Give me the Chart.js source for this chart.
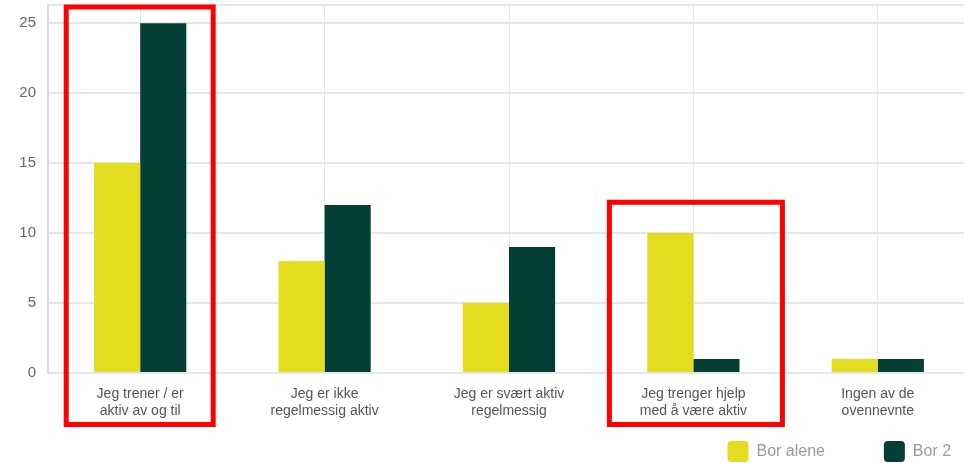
<!DOCTYPE html>
<html>
<head>
<meta charset="utf-8">
<script src="https://cdn.jsdelivr.net/npm/chart.js@4"></script>
<style>
    html, body { margin: 0; padding: 0; background: #fff; overflow: hidden; }
    #wrap { width: 970px; height: 472px; }
</style>
</head>
<body>
<div id="wrap"><canvas id="chart"></canvas></div>
<script>
// data
const categories = [
    ["Jeg trener / er", "aktiv av og til"],
    ["Jeg er ikke", "regelmessig aktiv"],
    ["Jeg er svært aktiv", "regelmessig"],
    ["Jeg trenger hjelp", "med å være aktiv"],
    ["Ingen av de", "ovennevnte"]
];
const seriesNames = ["Bor alene", "Bor 2"];
const borAlene = [15, 8, 5, 10, 1];
const bor2 = [25, 12, 9, 1, 1];
const yTicks = [0, 5, 10, 15, 20, 25];

// red boxes drawn over the chart (category index, top value or null for top of plot)
const highlights = [
    { cat: 0, top: null, left: 74, right: 73 },
    { cat: 3, top: 12.2, left: 84, right: 89 }
];

const highlightPlugin = {
    id: 'highlight',
    afterDraw(c) {
        const ctx = c.ctx;
        const x = c.scales.x, y = c.scales.y;
        ctx.save();
        ctx.strokeStyle = '#ff0000';
        ctx.lineWidth = 5;
        highlights.forEach(h => {
            const cx = x.getPixelForValue(h.cat);
            const top = h.top === null ? c.chartArea.top + 2 : y.getPixelForValue(h.top);
            const bottom = 424.5;
            ctx.strokeRect(cx - h.left, top, h.left + h.right, bottom - top);
        });
        ctx.restore();
    }
};

const font = "'Liberation Sans', Arial, sans-serif";

new Chart(document.getElementById("chart"), {
    type: 'bar',
    data: {
        labels: categories,
        datasets: [{
            label: seriesNames[0],
            data: borAlene,
            backgroundColor: '#e3dc1f',
            categoryPercentage: 0.5,
            barPercentage: 1
        }, {
            label: seriesNames[1],
            data: bor2,
            backgroundColor: '#043f35',
            categoryPercentage: 0.5,
            barPercentage: 1
        }]
    },
    options: {
        responsive: true,
        maintainAspectRatio: false,
        animation: false,
        layout: { padding: { top: 5, left: 0, right: 0, bottom: 0 } },
        scales: {
            x: {
                grid: { offset: false, color: '#e6e6e6', drawTicks: false },
                border: { display: false },
                ticks: {
                    padding: 13,
                    color: '#555',
                    maxRotation: 0,
                    font: { family: font, size: 14, lineHeight: 1.2 }
                },
                afterFit(s) { s.height = 58; }
            },
            y: {
                min: 0,
                max: 26.3,
                afterBuildTicks(s) { s.ticks = yTicks.concat([26.3]).map(v => ({ value: v })); },
                grid: { color: '#e6e6e6', drawTicks: false, lineWidth: 2 },
                border: { color: '#dcdcdc', width: 2 },
                ticks: {
                    padding: 12,
                    color: '#666',
                    font: { family: font, size: 15 },
                    callback: v => (v % 5 === 0 ? v : '')
                },
                afterFit(s) { s.width = 48; s.paddingTop = 0; s.paddingBottom = 0; }
            }
        },
        plugins: {
            tooltip: { enabled: false },
            legend: {
                position: 'bottom',
                align: 'end',
                labels: {
                    boxWidth: 21,
                    boxHeight: 21,
                    useBorderRadius: true,
                    borderRadius: 4,
                    padding: 10,
                    color: '#999',
                    font: { family: font, size: 16 },
                    generateLabels(c) {
                        const items = Chart.defaults.plugins.legend.labels.generateLabels(c);
                        items[0].text = items[0].text + '\u00a0'.repeat(11);
                        items[1].text = items[1].text + '\u00a0'.repeat(2);
                        items.forEach(it => { it.lineWidth = 0; });
                        return items;
                    }
                }
            }
        }
    },
    plugins: [highlightPlugin]
});
</script>
</body>
</html>
